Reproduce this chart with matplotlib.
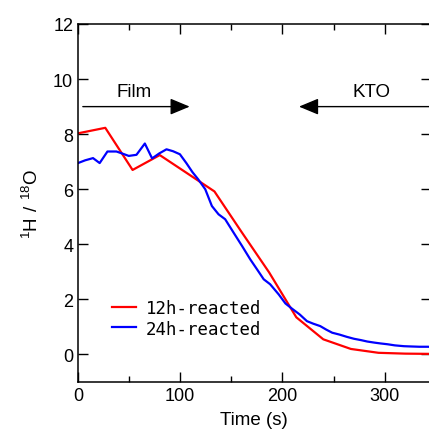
import numpy as np
import matplotlib
matplotlib.use('Agg')
import matplotlib.pyplot as plt
from matplotlib.ticker import MultipleLocator

# data
t_12h = [0, 26.7, 53.4, 80, 106.8, 133.5, 160, 187, 213.6, 240, 267, 294, 320, 347]
y_12h = [8.03, 8.23, 6.70, 7.24, 6.58, 5.92, 4.45, 2.98, 1.35, 0.55, 0.20, 0.06, 0.03, 0.02]

t_24h = [0, 7, 14.7, 21.2, 28.8, 37.6, 43, 49.7, 57.2, 65.4, 72.5, 79.5, 86.6, 93,
         99.7, 106, 112, 117.6, 124.5, 131, 137.5, 144, 152.3, 160.5, 168.6, 175.2,
         181.7, 188, 196.4, 203, 209.5, 217, 224, 230, 237, 243, 248.7, 256, 263,
         270, 277, 283, 290, 296, 303, 310, 319, 326, 334, 342, 350]
y_24h = [6.95, 7.05, 7.13, 6.95, 7.37, 7.37, 7.30, 7.21, 7.25, 7.66, 7.12, 7.30, 7.45, 7.38,
         7.27, 6.95, 6.62, 6.36, 6.00, 5.39, 5.09, 4.91, 4.42, 3.94, 3.45, 3.09,
         2.73, 2.55, 2.18, 1.85, 1.66, 1.45, 1.21, 1.12, 1.03, 0.90, 0.79, 0.72, 0.64,
         0.57, 0.52, 0.47, 0.43, 0.40, 0.37, 0.33, 0.30, 0.29, 0.28, 0.28, 0.27]

labels = ['12h-reacted', '24h-reacted']
colors = ['#ff0000', '#0000ff']

plt.rcParams['font.family'] = ['Liberation Sans', 'DejaVu Sans']
plt.rcParams['mathtext.fontset'] = 'custom'
plt.rcParams['mathtext.rm'] = 'Liberation Sans'

fig = plt.figure(figsize=(4.29, 4.39), dpi=100)
ax = fig.add_axes([78 / 429, 56 / 439, 352.6 / 429, 358 / 439])

ax.plot(t_12h, y_12h, color=colors[0], lw=1.6, label=labels[0])
ax.plot(t_24h, y_24h, color=colors[1], lw=1.6, label=labels[1])

ax.set_xlim(0, 345)
ax.set_ylim(-1, 12)
ax.xaxis.set_major_locator(MultipleLocator(100))
ax.xaxis.set_minor_locator(MultipleLocator(50))
ax.yaxis.set_major_locator(MultipleLocator(2))
ax.tick_params(which='both', direction='in', top=True, right=True, labelsize=13, width=1)
ax.tick_params(which='major', length=7)
ax.tick_params(which='minor', length=4)
for s in ax.spines.values():
    s.set_linewidth(1.1)

ax.set_xlabel('Time (s)', fontsize=13.5, labelpad=5)
ax.set_ylabel(r'$\mathrm{^{1}H\ /\ ^{18}O}$', fontsize=13.5, labelpad=8)

# Film / KTO arrows
ax.annotate('', xy=(112, 9), xytext=(2, 9),
            arrowprops=dict(arrowstyle='-|>,head_length=1.2,head_width=0.5', color='black', lw=1))
ax.text(55, 9.55, 'Film', fontsize=13.5, ha='center', va='center')
ax.annotate('', xy=(213.5, 9), xytext=(350, 9),
            arrowprops=dict(arrowstyle='-|>,head_length=1.2,head_width=0.5', color='black', lw=1))
ax.text(287, 9.55, 'KTO', fontsize=13.5, ha='center', va='center')

leg = ax.legend(loc='lower left', bbox_to_anchor=(0.072, 0.1), frameon=False,
                prop={'family': ['DejaVu Sans Mono'], 'size': 12.5},
                handlelength=1.4, handletextpad=0.55, labelspacing=0.12, borderpad=0)

fig.savefig('out.png', dpi=100)
